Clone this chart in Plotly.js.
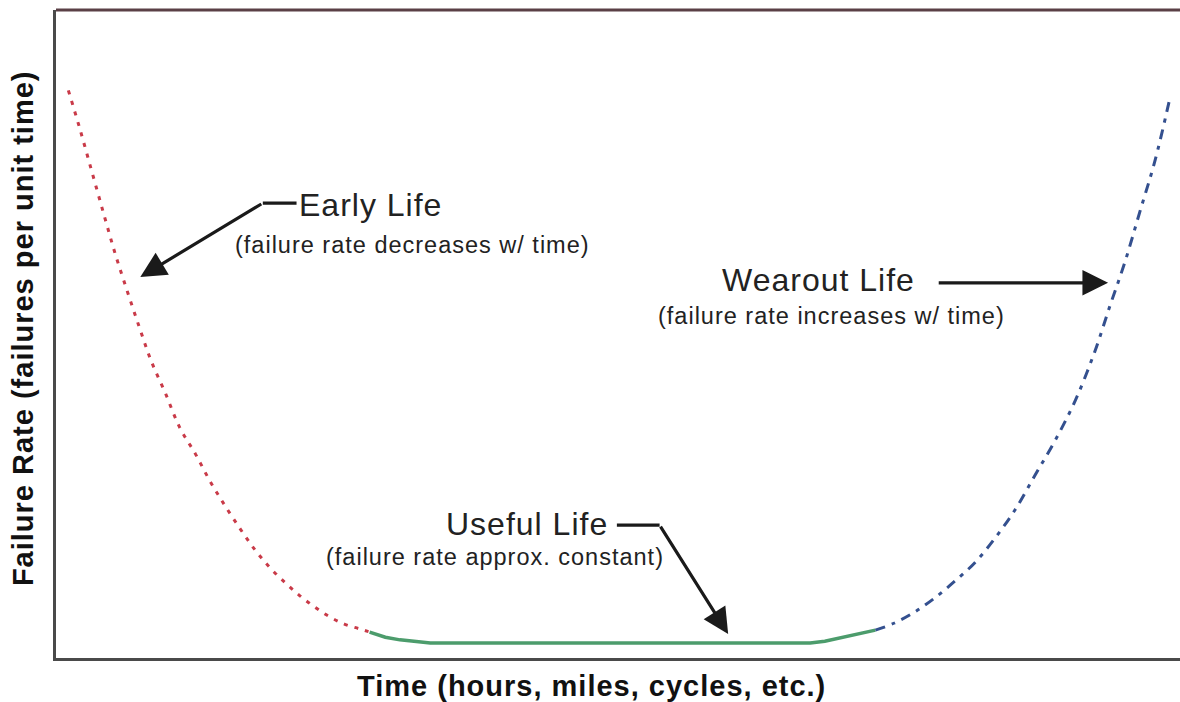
<!DOCTYPE html>
<html>
<head>
<meta charset="utf-8">
<script src="https://cdn.plot.ly/plotly-3.0.1.min.js"></script>
<style>
  html, body { margin: 0; padding: 0; background: #ffffff; }
  #chart { width: 1180px; height: 702px; }
  .annotation-text { letter-spacing: 1px; }
</style>
</head>
<body>
<div id="chart"></div>
<script>
// Early life (decreasing failure rate)
const earlyTime = [1.1, 2.1, 3.2, 4.3, 5.3, 6.4, 7.5, 8.5, 9.7, 11.0, 12.4, 13.7, 15.0, 16.4, 17.7, 19.0, 20.4, 21.7, 23.0, 24.4, 25.7, 27.0, 28.1];
const earlyRate = [87.6, 81.8, 75.0, 68.2, 62.2, 56.3, 50.6, 45.7, 41.0, 35.6, 31.5, 27.3, 23.6, 19.9, 16.7, 14.0, 11.6, 9.6, 7.9, 6.3, 5.2, 4.5, 3.9];

// Useful life (approx. constant failure rate)
const usefulTime = [27.9, 29.3, 30.6, 31.9, 33.3, 50.0, 67.1, 68.4, 69.8, 71.1, 72.9];
const usefulRate = [4.0, 3.2, 2.8, 2.5, 2.3, 2.3, 2.3, 2.6, 3.1, 3.7, 4.3];

// Wearout life (increasing failure rate)
const wearTime = [72.9, 74.6, 76.4, 78.2, 80.0, 81.8, 83.5, 85.3, 87.1, 88.9, 90.7, 92.4, 93.8, 95.1, 96.4, 97.8, 99.1];
const wearRate = [4.3, 5.4, 7.1, 9.3, 11.9, 14.8, 18.4, 22.8, 28.2, 33.6, 39.8, 47.2, 54.5, 61.1, 68.7, 76.9, 86.4];

const xTitle = 'Time (hours, miles, cycles, etc.)';
const yTitle = 'Failure Rate (failures per unit time)';

const FONT = '"Liberation Sans", Arial, sans-serif';
const TXT = '#222222';

const traces = [
  { x: earlyTime, y: earlyRate, type: 'scatter', mode: 'lines', name: 'Early Life',
    line: { color: '#c93a48', width: 3, dash: '4px,7px', shape: 'spline' }, hoverinfo: 'skip' },
  { x: usefulTime, y: usefulRate, type: 'scatter', mode: 'lines', name: 'Useful Life',
    line: { color: '#4c9c6c', width: 3.5, shape: 'linear' }, hoverinfo: 'skip' },
  { x: wearTime, y: wearRate, type: 'scatter', mode: 'lines', name: 'Wearout Life',
    line: { color: '#34508f', width: 3, dash: '10px,7px,4px,7px', shape: 'spline' }, hoverinfo: 'skip' }
];

function label(text, x, y, size) {
  return { text: text, x: x, y: y, xref: 'x', yref: 'y', showarrow: false,
           xanchor: 'center', yanchor: 'middle',
           font: { family: FONT, size: size, color: TXT } };
}
function arrow(x, y, ax, ay) {
  return { text: '', x: x, y: y, ax: ax, ay: ay, xref: 'x', yref: 'y', axref: 'x', ayref: 'y',
           showarrow: true, arrowhead: 2, arrowsize: 1.6, arrowwidth: 3.2, arrowcolor: '#1a1a1a',
           standoff: 0, startstandoff: 0 };
}

const layout = {
  width: 1180, height: 702,
  margin: { l: 56, r: 0, t: 10, b: 44 },
  paper_bgcolor: '#ffffff', plot_bgcolor: '#ffffff',
  showlegend: false,
  xaxis: {
    range: [0, 100], showgrid: false, zeroline: false, showticklabels: false, ticks: '',
    showline: true, linecolor: '#4a4a4a', linewidth: 3, fixedrange: true
  },
  yaxis: {
    range: [0, 100], showgrid: false, zeroline: false, showticklabels: false, ticks: '',
    showline: true, linecolor: '#4a4a4a', linewidth: 3, fixedrange: true
  },
  shapes: [
    { type: 'line', xref: 'paper', yref: 'paper', x0: 0, x1: 1, y0: 1, y1: 1,
      line: { color: '#5a4046', width: 3 } },
    { type: 'line', xref: 'x', yref: 'y', x0: 18.4, x1: 21.4, y0: 70.2, y1: 70.2,
      line: { color: '#1a1a1a', width: 3.2 } },
    { type: 'line', xref: 'x', yref: 'y', x0: 49.9, x1: 53.7, y0: 20.5, y1: 20.5,
      line: { color: '#1a1a1a', width: 3.2 } }
  ],
  annotations: [
    label('Early Life', 28.0, 69.9, 32),
    label('(failure rate decreases w/ time)', 31.7, 63.7, 23.5),
    label('Wearout Life', 67.8, 58.3, 32),
    label('(failure rate increases w/ time)', 69.0, 52.8, 23.5),
    label('Useful Life', 41.9, 20.7, 32),
    label('(failure rate approx. constant)', 39.1, 15.6, 23.5),
    arrow(7.5, 58.8, 18.4, 70.2),
    arrow(59.8, 3.7, 53.7, 20.5),
    arrow(93.6, 57.9, 78.4, 57.9),
    { text: '<b>' + xTitle + '</b>', xref: 'paper', yref: 'paper', x: 0.476, y: -0.0432,
      xanchor: 'center', yanchor: 'middle', showarrow: false,
      font: { family: FONT, size: 29, color: '#111111' } },
    { text: '<b>' + yTitle + '</b>', xref: 'paper', yref: 'paper', x: -0.0294, y: 0.509,
      xanchor: 'center', yanchor: 'middle', showarrow: false, textangle: -90,
      font: { family: FONT, size: 29, color: '#111111' } }
  ]
};

Plotly.newPlot('chart', traces, layout, { staticPlot: true, displayModeBar: false });
</script>
</body>
</html>
